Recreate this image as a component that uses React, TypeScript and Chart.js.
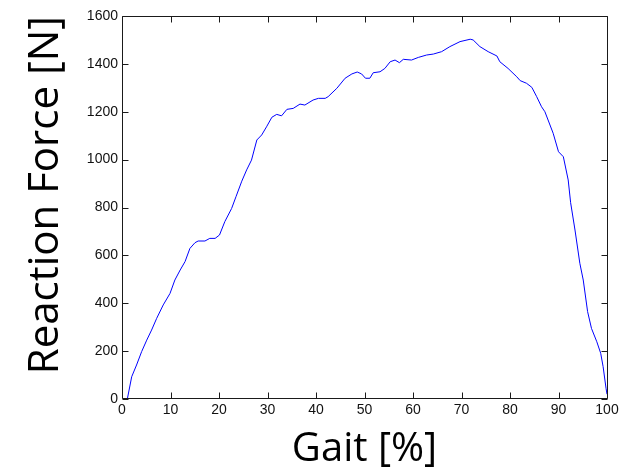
import React, { useEffect, useRef } from "react";
import { Chart, registerables } from "chart.js";

Chart.register(...registerables);

const gaitPct = [
  1.1, 2.0, 3.0, 4.05, 5.1, 6.1, 7.15, 8.5, 9.9, 10.9, 12.0, 13.0, 14.0, 15.05, 15.7, 17.1,
  18.1, 19.2, 20.1, 21.2, 22.6, 23.5, 24.7, 25.7, 26.7, 27.8, 28.8, 29.8, 30.9, 31.9, 32.9,
  34.0, 35.3, 36.7, 37.7, 39.4, 40.5, 41.9, 42.5, 44.3, 46.0, 47.4, 48.5, 49.4, 50.2, 51.1,
  51.8, 53.2, 54.2, 55.3, 56.3, 57.2, 58.0, 59.7, 61.1, 62.8, 64.2, 65.9, 67.6, 69.7, 71.8,
  72.4, 73.8, 75.5, 77.3, 77.9, 79.6, 81.4, 82.1, 83.4, 84.5, 85.5, 86.5, 87.2, 88.9, 90.0,
  91.0, 92.0, 92.5, 93.4, 94.4, 95.1, 96.0, 96.8, 97.9, 98.7, 99.2, 99.8, 100.0,
];

const reactionForce = [
  0, 93, 142, 198, 246, 288, 337, 393, 441, 497, 539, 574, 629, 653, 660, 660,
  671, 671, 685, 741, 796, 845, 910, 957, 998, 1082, 1103, 1137, 1177, 1189, 1183,
  1210, 1214, 1232, 1228, 1249, 1256, 1256, 1263, 1298, 1340, 1358, 1366, 1358, 1340, 1340,
  1363, 1367, 1381, 1409, 1416, 1405, 1419, 1416, 1427, 1437, 1441, 1451, 1472, 1493, 1503,
  1500, 1472, 1451, 1433, 1409, 1381, 1346, 1330, 1319, 1302, 1263, 1221, 1200, 1110, 1033,
  1012, 915, 820, 706, 567, 497, 365, 295, 239, 191, 135, 45, 20,
];

const xTitle = "Gait [%]";
const yTitle = "Reaction Force [N]";

const tickFont = { family: "'Liberation Sans Narrow', 'Liberation Sans', Arial, sans-serif", size: 14 };
const titleFamily = "'Open Sans', 'Noto Sans', sans-serif";

const framePlugin = {
  id: "matlabFrame",
  afterDraw(chart: any) {
    const { ctx, chartArea } = chart;
    const { left, right, top, bottom } = chartArea;
    const xs = chart.scales.x;
    const ys = chart.scales.y;
    const L = Math.round(left) + 0.5;
    const R = Math.round(right) + 0.5;
    const T = Math.round(top) + 0.5;
    const B = Math.round(bottom) - 0.5;
    const len = 6;
    ctx.save();
    ctx.strokeStyle = "#1a1a1a";
    ctx.lineWidth = 1;
    ctx.beginPath();
    ctx.rect(L, T, R - L, B - T);
    for (const t of xs.ticks) {
      const p = Math.round(xs.getPixelForValue(t.value)) + 0.5;
      ctx.moveTo(p, B);
      ctx.lineTo(p, B - len);
      ctx.moveTo(p, T);
      ctx.lineTo(p, T + len);
    }
    for (const t of ys.ticks) {
      const p = Math.round(ys.getPixelForValue(t.value)) + 0.5;
      ctx.moveTo(L, p);
      ctx.lineTo(L + len, p);
      ctx.moveTo(R, p);
      ctx.lineTo(R - len, p);
    }
    ctx.stroke();
    ctx.restore();
  },
};

export default function App() {
  const ref = useRef<HTMLCanvasElement | null>(null);

  useEffect(() => {
    if (!ref.current) return;
    const points = gaitPct.map((g, i) => ({ x: g, y: reactionForce[i] }));
    const chart = new Chart(ref.current, {
      type: "line",
      data: {
        datasets: [
          {
            data: points,
            borderColor: "#0000ff",
            borderWidth: 1,
            pointRadius: 0,
            tension: 0,
            fill: false,
          },
        ],
      },
      options: {
        responsive: false,
        animation: false,
        layout: { padding: { top: 16, right: 17, left: 0, bottom: 0 } },
        plugins: { legend: { display: false }, tooltip: { enabled: false } },
        scales: {
          x: {
            type: "linear",
            min: 0,
            max: 100,
            ticks: {
              stepSize: 10,
              font: tickFont,
              color: "#111",
              padding: 3,
              maxRotation: 0,
              callback: (v: any) => String(v),
            },
            grid: { display: false, drawTicks: false },
            border: { display: false },
            title: {
              display: true,
              text: xTitle,
              color: "#000",
              font: { family: titleFamily, size: 40, lineHeight: 1 },
              padding: { top: 0, bottom: 3 },
            },
            afterFit: (s: any) => {
              s.height = 74;
            },
          },
          y: {
            type: "linear",
            min: 0,
            max: 1600,
            ticks: {
              stepSize: 200,
              font: tickFont,
              color: "#111",
              padding: 4,
              callback: (v: any) => String(v),
            },
            grid: { display: false, drawTicks: false },
            border: { display: false },
            title: {
              display: true,
              text: yTitle,
              align: "end",
              color: "#000",
              font: { family: titleFamily, size: 42, lineHeight: 1 },
              padding: { top: 25, bottom: 0 },
            },
            afterFit: (s: any) => {
              s.width = 122;
            },
          },
        },
      },
      plugins: [framePlugin],
    });
    return () => chart.destroy();
  }, []);

  return (
    <canvas
      ref={ref}
      width={624}
      height={473}
      style={{ position: "fixed", left: 0, top: 0, display: "block", background: "#fff" }}
    />
  );
}
